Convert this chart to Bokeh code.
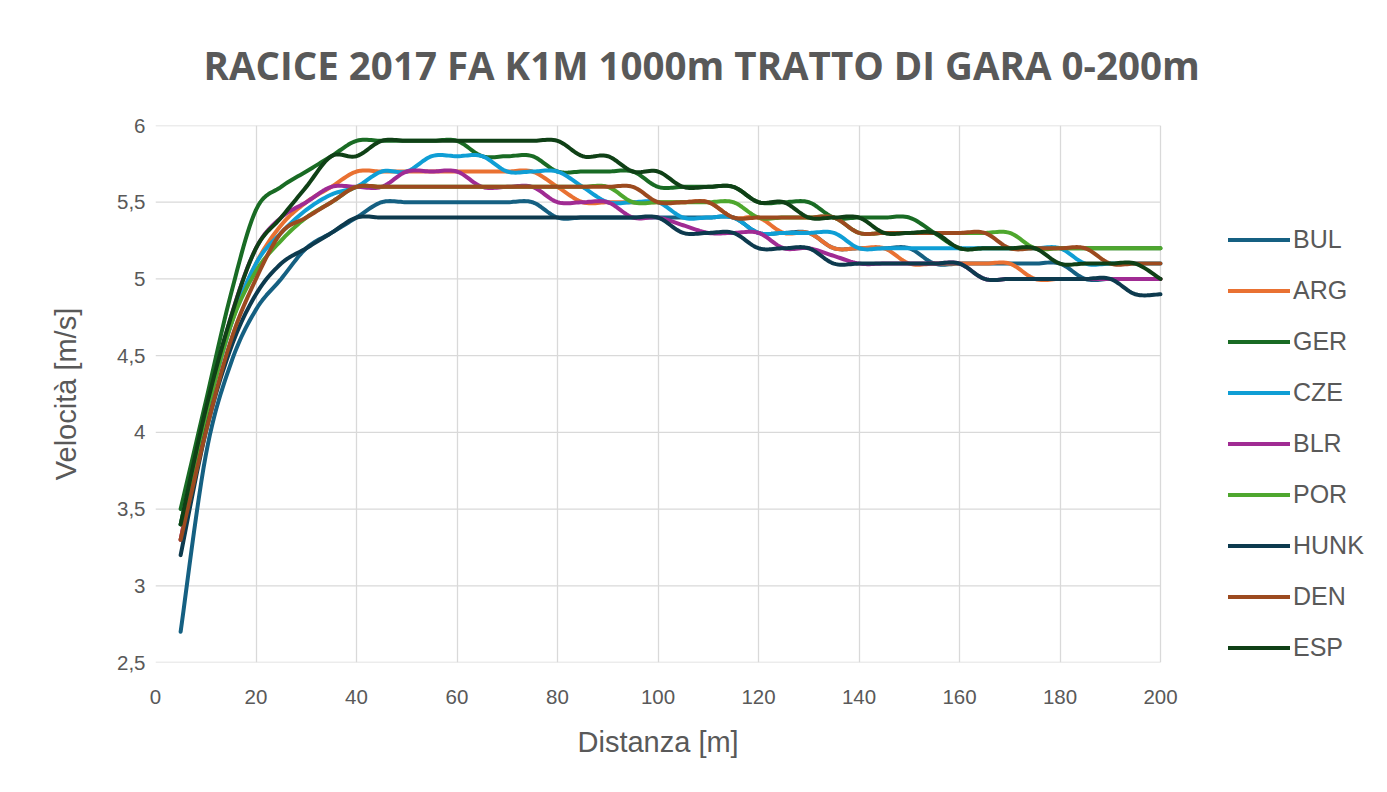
from bokeh.plotting import figure
from bokeh.models import Legend, LegendItem, FixedTicker, Range1d, CustomJSTickFormatter, Title
from bokeh.embed import file_html
from bokeh.resources import INLINE

# ---------------- data ----------------
distance = [5, 10, 15, 20, 25, 30, 35, 40, 45, 50, 55, 60, 65, 70, 75, 80, 85, 90, 95, 100,
            105, 110, 115, 120, 125, 130, 135, 140, 145, 150, 155, 160, 165, 170, 175, 180, 185, 190, 195, 200]

BUL = [2.7, 3.85, 4.45, 4.8, 5.0, 5.2, 5.3, 5.4, 5.5, 5.5, 5.5, 5.5, 5.5, 5.5, 5.5, 5.4, 5.4, 5.4, 5.4, 5.4,
       5.4, 5.4, 5.4, 5.3, 5.3, 5.3, 5.2, 5.2, 5.2, 5.2, 5.1, 5.1, 5.1, 5.1, 5.1, 5.1, 5.0, 5.0, 5.0, 5.0]
ARG = [3.3, 4.1, 4.7, 5.1, 5.35, 5.5, 5.6, 5.7, 5.7, 5.7, 5.7, 5.7, 5.7, 5.7, 5.7, 5.6, 5.5, 5.5, 5.5, 5.5,
       5.5, 5.5, 5.4, 5.4, 5.3, 5.3, 5.2, 5.2, 5.2, 5.1, 5.1, 5.1, 5.1, 5.1, 5.0, 5.0, 5.0, 5.0, 5.0, 5.0]
GER = [3.5, 4.2, 4.9, 5.45, 5.6, 5.7, 5.8, 5.9, 5.9, 5.9, 5.9, 5.9, 5.8, 5.8, 5.8, 5.7, 5.7, 5.7, 5.7, 5.6,
       5.6, 5.6, 5.6, 5.5, 5.5, 5.5, 5.4, 5.4, 5.4, 5.4, 5.3, 5.2, 5.2, 5.2, 5.2, 5.2, 5.2, 5.2, 5.2, 5.2]
CZE = [3.4, 4.1, 4.7, 5.1, 5.3, 5.45, 5.55, 5.6, 5.7, 5.7, 5.8, 5.8, 5.8, 5.7, 5.7, 5.7, 5.6, 5.5, 5.5, 5.5,
       5.4, 5.4, 5.4, 5.3, 5.3, 5.3, 5.3, 5.2, 5.2, 5.2, 5.2, 5.2, 5.2, 5.2, 5.2, 5.2, 5.1, 5.1, 5.1, 5.1]
BLR = [3.3, 4.1, 4.75, 5.2, 5.4, 5.5, 5.6, 5.6, 5.6, 5.7, 5.7, 5.7, 5.6, 5.6, 5.6, 5.5, 5.5, 5.5, 5.4, 5.4,
       5.35, 5.3, 5.3, 5.3, 5.2, 5.2, 5.15, 5.1, 5.1, 5.1, 5.1, 5.1, 5.0, 5.0, 5.0, 5.0, 5.0, 5.0, 5.0, 5.0]
POR = [3.4, 4.1, 4.7, 5.05, 5.25, 5.4, 5.5, 5.6, 5.6, 5.6, 5.6, 5.6, 5.6, 5.6, 5.6, 5.6, 5.6, 5.6, 5.5, 5.5,
       5.5, 5.5, 5.5, 5.4, 5.4, 5.4, 5.4, 5.3, 5.3, 5.3, 5.3, 5.3, 5.3, 5.3, 5.2, 5.2, 5.2, 5.2, 5.2, 5.2]
HUNK = [3.2, 4.0, 4.55, 4.9, 5.1, 5.2, 5.3, 5.4, 5.4, 5.4, 5.4, 5.4, 5.4, 5.4, 5.4, 5.4, 5.4, 5.4, 5.4, 5.4,
        5.3, 5.3, 5.3, 5.2, 5.2, 5.2, 5.1, 5.1, 5.1, 5.1, 5.1, 5.1, 5.0, 5.0, 5.0, 5.0, 5.0, 5.0, 4.9, 4.9]
DEN = [3.3, 4.0, 4.6, 5.0, 5.3, 5.4, 5.5, 5.6, 5.6, 5.6, 5.6, 5.6, 5.6, 5.6, 5.6, 5.6, 5.6, 5.6, 5.6, 5.5,
       5.5, 5.5, 5.4, 5.4, 5.4, 5.4, 5.4, 5.3, 5.3, 5.3, 5.3, 5.3, 5.3, 5.2, 5.2, 5.2, 5.2, 5.1, 5.1, 5.1]
ESP = [3.4, 4.15, 4.75, 5.2, 5.4, 5.6, 5.8, 5.8, 5.9, 5.9, 5.9, 5.9, 5.9, 5.9, 5.9, 5.9, 5.8, 5.8, 5.7, 5.7,
       5.6, 5.6, 5.6, 5.5, 5.5, 5.4, 5.4, 5.4, 5.3, 5.3, 5.3, 5.2, 5.2, 5.2, 5.2, 5.1, 5.1, 5.1, 5.1, 5.0]

series_names = ["BUL", "ARG", "GER", "CZE", "BLR", "POR", "HUNK", "DEN", "ESP"]
series_values = [BUL, ARG, GER, CZE, BLR, POR, HUNK, DEN, ESP]
series_colors = ["#156082", "#E97132", "#196B24", "#0F9ED5", "#A02B93", "#4EA72E",
                 "#0D3A4E", "#9C4A1F", "#0F4016"]

x_ticks = list(range(0, 201, 20))
y_ticks = [2.5, 3, 3.5, 4, 4.5, 5, 5.5, 6]

title_text = "RACICE 2017 FA K1M 1000m TRATTO DI GARA 0-200m"
x_label = "Distanza [m]"
y_label = "Velocità [m/s]"


def smooth(xs, ys, n=12):
    """Excel-like smoothed line (uniform Catmull-Rom through the data points)."""
    pts = list(zip(xs, ys))
    ox, oy = [], []
    m = len(pts)
    for i in range(m - 1):
        p0 = pts[i - 1] if i > 0 else pts[i]
        p1 = pts[i]
        p2 = pts[i + 1]
        p3 = pts[i + 2] if i + 2 < m else pts[i + 1]
        for k in range(n):
            t = k / n
            t2, t3 = t * t, t * t * t
            for idx, out in ((0, ox), (1, oy)):
                a0, a1, a2, a3 = p0[idx], p1[idx], p2[idx], p3[idx]
                v = 0.5 * ((2 * a1) + (-a0 + a2) * t + (2 * a0 - 5 * a1 + 4 * a2 - a3) * t2
                           + (-a0 + 3 * a1 - 3 * a2 + a3) * t3)
                out.append(v)
    ox.append(pts[-1][0])
    oy.append(pts[-1][1])
    return ox, oy


TEXT = "#595959"
FONT = "Liberation Sans"
GRID = "#d9d9d9"

W, H = 1385, 790
LEFT, RIGHT_DATA_PX, TOP, BOTTOM = 155, 1160, 125, 128
x_min, x_max = x_ticks[0], x_ticks[-1]
# extend the frame to the right so the legend sits inside it (beyond x = 200)
x_end = x_max + (W - RIGHT_DATA_PX) * (x_max - x_min) / (RIGHT_DATA_PX - LEFT)

p = figure(width=W, height=H, output_backend="svg", toolbar_location=None,
           x_range=Range1d(x_min, x_end), y_range=Range1d(y_ticks[0], y_ticks[-1]),
           min_border_left=LEFT, min_border_right=0, min_border_top=TOP, min_border_bottom=BOTTOM)

p.outline_line_color = None
p.background_fill_color = "white"
p.border_fill_color = "white"

p.title.text = title_text
p.title.align = "left"
p.title.vertical_align = "middle"
p.title.text_font = "Open Sans"
p.title.text_font_style = "bold"
p.title.text_font_size = "38.5px"
p.title.text_color = TEXT
p.title.standoff = 68
p.title.offset = 48

for ax in (p.xaxis[0], p.yaxis[0]):
    ax.axis_line_color = None
    ax.major_tick_line_color = None
    ax.minor_tick_line_color = None
    ax.major_tick_out = 0
    ax.major_tick_in = 0
    ax.minor_tick_out = 0
    ax.major_label_text_font = FONT
    ax.major_label_text_font_size = "20.5px"
    ax.major_label_text_color = TEXT
    ax.axis_label_text_font = FONT
    ax.axis_label_text_font_size = "29px"
    ax.axis_label_text_font_style = "normal"
    ax.axis_label_text_color = TEXT

p.xaxis.ticker = FixedTicker(ticks=x_ticks)
p.xaxis.bounds = (x_min, x_max)
p.yaxis.ticker = FixedTicker(ticks=y_ticks)
p.yaxis.formatter = CustomJSTickFormatter(code="return tick.toString().replace('.', ',');")
p.yaxis.axis_label = y_label
p.xaxis.major_label_standoff = 27
p.yaxis.major_label_standoff = 10
p.yaxis.axis_label_standoff = 32

# x-axis title, centred under the 0-200 data area
xtitle = Title(text=x_label, align="left", offset=422, standoff=34,
               text_font=FONT, text_font_size="29px", text_font_style="normal", text_color=TEXT)
p.add_layout(xtitle, "below")

p.xgrid.grid_line_color = GRID
p.xgrid.grid_line_width = 1.3
p.ygrid.grid_line_color = None
# horizontal gridlines only across the data area (0..200)
p.segment(x0=[x_min] * len(y_ticks), x1=[x_max] * len(y_ticks), y0=y_ticks, y1=y_ticks,
          line_color=GRID, line_width=1.3)

items = []
for name, vals, col in zip(series_names, series_values, series_colors):
    sx, sy = smooth(distance, vals)
    r = p.line(sx, sy, line_width=4, line_color=col, line_cap="round", line_join="round")
    items.append(LegendItem(label=name, renderers=[r]))

legend = Legend(items=items, location=(1073, 0))
legend.label_text_font = FONT
legend.label_text_font_size = "25px"
legend.label_text_color = TEXT
legend.glyph_width = 62
legend.glyph_height = 25
legend.label_height = 25
legend.spacing = 22
legend.label_standoff = 3
legend.padding = 0
legend.margin = 0
legend.border_line_color = None
legend.background_fill_alpha = 0
p.add_layout(legend, "center")

open("out.html", "w").write(file_html(p, INLINE))
